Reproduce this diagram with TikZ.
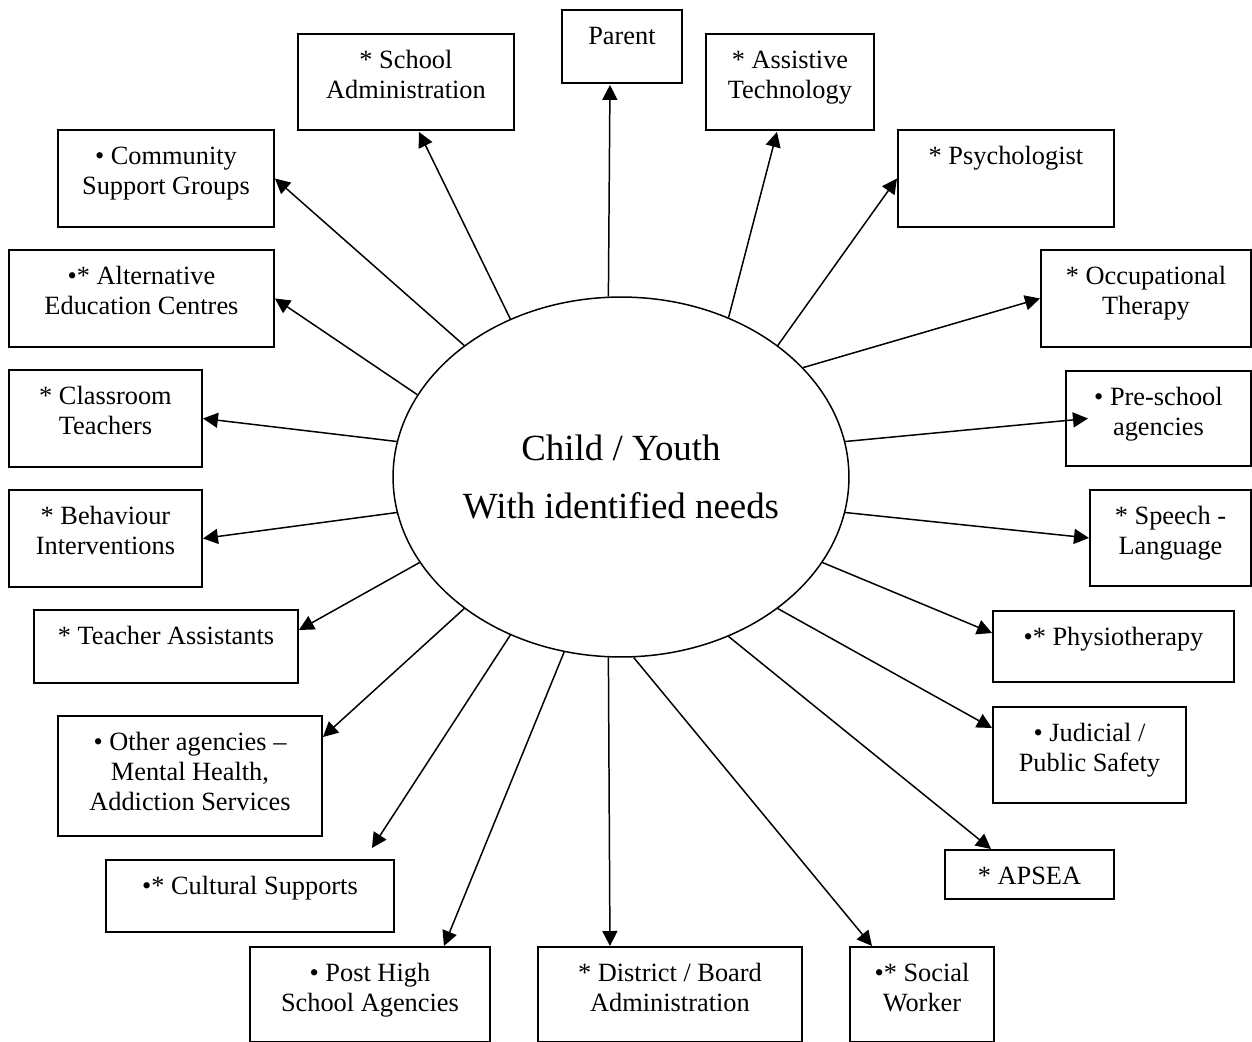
\documentclass[tikz,border=0pt]{standalone}
\usepackage{fontspec}
\setmainfont{Liberation Serif}
\usetikzlibrary{arrows.meta,calc,shapes.geometric}

\begin{document}
\begin{tikzpicture}[x=0.02cm,y=-0.02cm,
   agency/.style={draw,line width=1.1pt,inner sep=0pt,anchor=north west},
   agtext/.style={anchor=north,inner sep=0pt,align=center,yshift=-0.28cm,
     font=\fontsize{15}{17.07}\selectfont},
   conn/.style={line width=0.85pt,-{Triangle[length=3mm,width=3mm]}}]
 \useasboundingbox (0,0) rectangle (1252,1042);
 % the child in the middle
 \node[ellipse,draw,line width=0.85pt,minimum width=9.12cm,minimum height=7.2cm,
   inner sep=0pt,align=center,font=\fontsize{21}{33}\selectfont] (child) at (621,477)
   {Child / Youth\\With identified needs};
 % agencies: name/left/top/right/bottom/text
 \foreach \nm/\xl/\yt/\xr/\yb/\txt in {
   parent/561/9/681/82/{Parent},
   schadm/297/33/513/129/{* School\\Administration},
   assist/705/33/873/129/{* Assistive\\Technology},
   commun/57/129/273/226/{• Community\\Support Groups},
   psych/897/129/1113/226/{* Psychologist},
   altedu/8/249/273/346/{•* Alternative\\Education Centres},
   occup/1040/249/1250/346/{* Occupational\\Therapy},
   class/8/369/201/466/{* Classroom\\Teachers},
   presch/1065/370/1250/465/{• Pre-school\\agencies},
   behav/8/489/201/586/{* Behaviour\\Interventions},
   speech/1089/489/1250/585/{* Speech -\\Language},
   tasst/33/609/297/682/{* Teacher Assistants},
   physio/992/610/1233/681/{•* Physiotherapy},
   other/57/715/321/835/{• Other agencies –\\Mental Health,\\Addiction Services},
   judic/992/706/1185/802/{• Judicial /\\Public Safety},
   apsea/944/849/1113/898/{* APSEA},
   cultur/105/859/393/931/{•* Cultural Supports},
   posthi/249/946/489/1041/{• Post High\\School Agencies},
   distr/537/946/801/1041/{* District / Board\\Administration},
   social/849/946/993/1041/{•* Social\\Worker}} {
   \node[agency,minimum width={(\xr-\xl)*0.02cm},minimum height={(\yb-\yt)*0.02cm},
     label={[agtext]north:\strut\txt}] (\nm) at (\xl,\yt) {};
 }
 % arrows out of the ellipse
 \foreach \ang/\nm/\anc/\dx/\dy in {
   94/parent/south/-12/1, 125/schadm/south/13/1, 56/assist/south/-13/1,
   140/commun/east/0/0, 40/psych/west/0/0, 158/altedu/east/0/0,
   31/occup/west/0/0, 171/class/east/0/0, 9/presch/west/23/0,
   189/behav/east/0/0, 351/speech/west/0/0, 203/tasst/north east/0/21,
   337/physio/north west/0/23, 220/other/north east/0/22,
   320/judic/north west/0/22, 235/cultur/north east/-23/-11,
   304/apsea/north west/47/0, 252/posthi/north east/-47/0,
   266/distr/north/-60/0, 274/social/north west/23/0}
   \draw[conn] (child.\ang) -- ($(\nm.\anc)+(\dx,\dy)$);
\end{tikzpicture}
\end{document}
